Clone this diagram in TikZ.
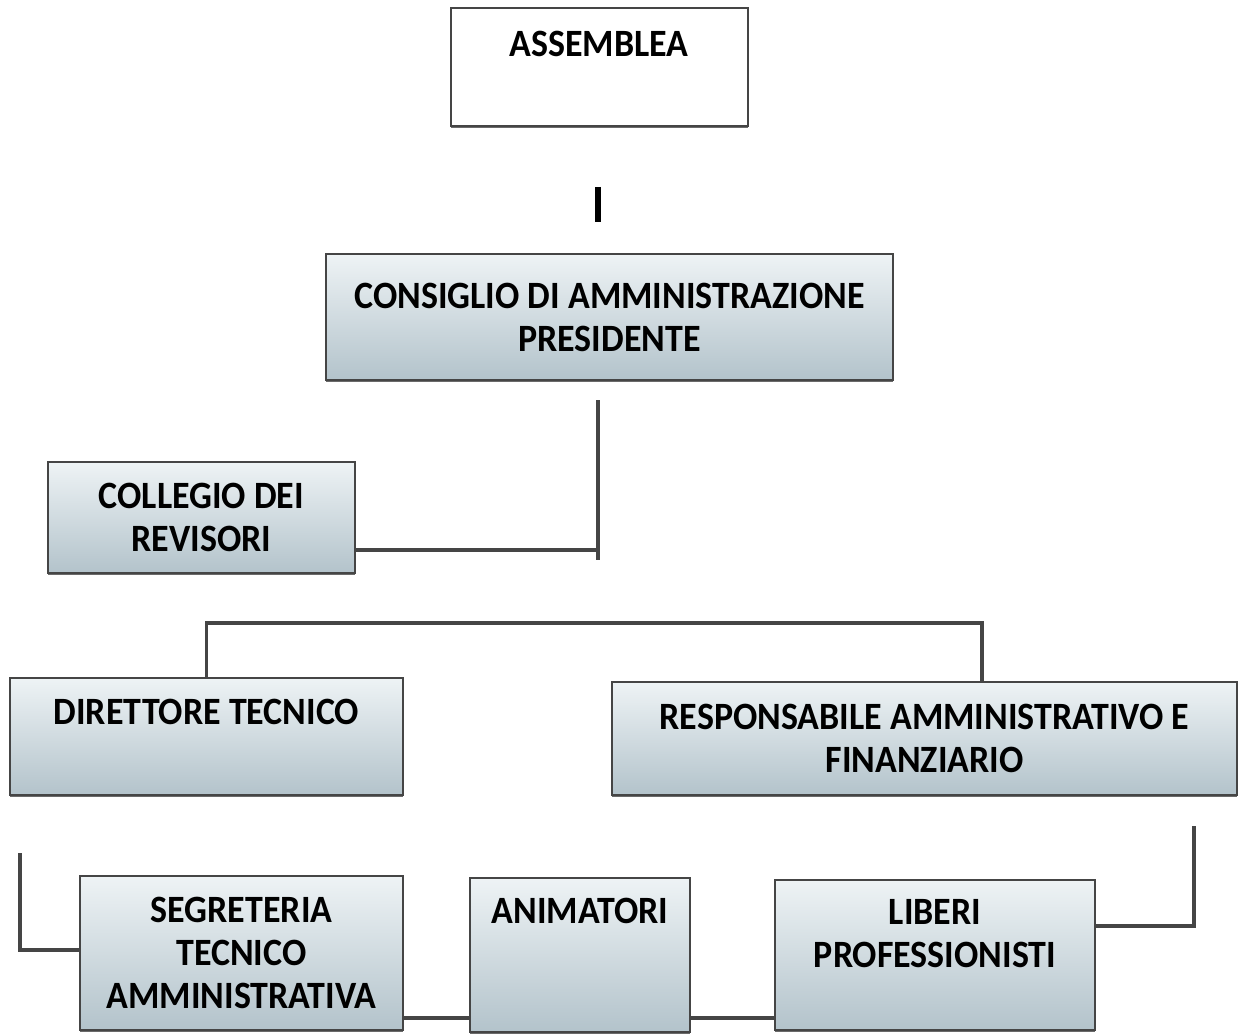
\documentclass[tikz,border=0pt]{standalone}
\usepackage{fontspec}
\setmainfont{Carlito}[FakeStretch=0.93]
\usepackage{tikz}
\usepackage{xcolor}
\usetikzlibrary{shadows}

\definecolor{edge}{HTML}{454545}
\definecolor{boxtop}{HTML}{EEF3F5}
\definecolor{boxbot}{HTML}{B3C3CB}

\tikzset{
  box/.style={draw=edge, line width=1.1pt, rectangle, inner sep=0pt,
    top color=boxtop, bottom color=boxbot, align=center,
    drop shadow={shadow xshift=0pt, shadow yshift=-1.2pt, fill=edge, opacity=.8},
    font=\fontsize{22}{24.5}\selectfont\bfseries},
  lbl/.style={align=center, inner sep=0pt, font=\fontsize{22}{24.5}\selectfont\bfseries},
  link/.style={draw=edge, line width=2pt}
}

\begin{document}
\begin{tikzpicture}[x=0.2mm,y=-0.2mm]
\useasboundingbox (0,0) rectangle (1239,1035);

\node[box, top color=white, bottom color=white,
  minimum width=59.4mm, minimum height=23.6mm] (assem) at (599.5,67) {};
\node[lbl] (assemt) at (599,44) {ASSEMBLEA};

\node[box, minimum width=113.4mm, minimum height=25.2mm] (cons) at (609.5,317)
  {CONSIGLIO DI AMMINISTRAZIONE\\PRESIDENTE};

\node[box, minimum width=61.4mm, minimum height=22.2mm] (coll) at (201.5,517.5)
  {COLLEGIO DEI\\REVISORI};

\node[box, minimum width=78.6mm, minimum height=23.4mm] (diret) at (206.5,736.5) {};
\node[lbl] (dirett) at (206.5,712) {DIRETTORE TECNICO};

\node[box, minimum width=125mm, minimum height=22.6mm] (resp) at (924.5,738.5)
  {RESPONSABILE AMMINISTRATIVO E\\FINANZIARIO};

\node[box, minimum width=64.6mm, minimum height=30.8mm] (segr) at (241.5,953)
  {SEGRETERIA\\TECNICO\\AMMINISTRATIVA};

\node[box, minimum width=44mm, minimum height=30.8mm] (anim) at (580,955) {};
\node[lbl] (animt) at (580,911) {ANIMATORI};

\node[box, minimum width=64mm, minimum height=30mm] (liberi) at (935,955) {};
\node[lbl] (liberit) at (935,933.5) {LIBERI\\PROFESSIONISTI};

\coordinate (s1) at (598,187);
\coordinate (s2) at (598,222);
\draw[link, draw=black, line width=3.2pt] (s1) -- (s2);

\coordinate (c1) at (598,400);
\coordinate (c2) at (598,560);
\coordinate (j1) at (598,550);
\draw[link] (c1) -- (c2);
\draw[link] (coll.east |- j1) -- (j1);

\coordinate (h2) at (982,623);
\draw[link] (diret.north) |- (h2) -- (resp.north -| h2);

\coordinate (r1) at (1194,826);
\coordinate (r2) at (1194,926);
\draw[link] (r1) -- (r2) -- (liberi.east |- r2);

\coordinate (l1) at (20,853);
\coordinate (l2) at (20,950);
\draw[link] (l1) -- (l2) -- (segr.west |- l2);

\coordinate (b1) at (0,1018);
\draw[link] (segr.east |- b1) -- (anim.west |- b1);
\draw[link] (anim.east |- b1) -- (liberi.west |- b1);
\end{tikzpicture}
\end{document}
